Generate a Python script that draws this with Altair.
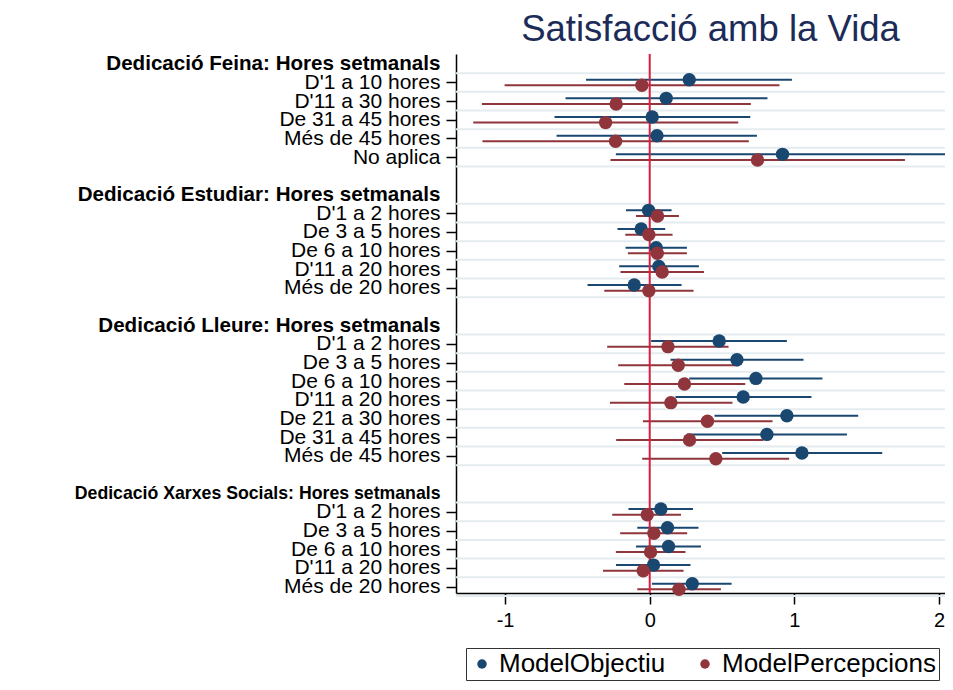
import json
import altair as alt
import pandas as pd

# ---------------- data ----------------
groups = [
    "Dedicació Feina: Hores setmanals",
    "Dedicació Estudiar: Hores setmanals",
    "Dedicació Lleure: Hores setmanals",
    "Dedicació Xarxes Socials: Hores setmanals",
]
items = [
    ["D'1 a 10 hores", "D'11 a 30 hores", "De 31 a 45 hores", "Més de 45 hores", "No aplica"],
    ["D'1 a 2 hores", "De 3 a 5 hores", "De 6 a 10 hores", "D'11 a 20 hores", "Més de 20 hores"],
    ["D'1 a 2 hores", "De 3 a 5 hores", "De 6 a 10 hores", "D'11 a 20 hores",
     "De 21 a 30 hores", "De 31 a 45 hores", "Més de 45 hores"],
    ["D'1 a 2 hores", "De 3 a 5 hores", "De 6 a 10 hores", "D'11 a 20 hores", "Més de 20 hores"],
]
series = ["ModelObjectiu", "ModelPercepcions"]
colors = ["#1a476f", "#90353b"]

obj_coef = [0.273, 0.114, 0.017, 0.050, 0.918,
            -0.008, -0.059, 0.045, 0.063, -0.107,
            0.480, 0.603, 0.734, 0.646, 0.948, 0.810, 1.052,
            0.077, 0.123, 0.130, 0.026, 0.294]
obj_lo = [-0.440, -0.582, -0.658, -0.644, -0.234,
          -0.164, -0.223, -0.167, -0.211, -0.430,
          0.010, 0.144, 0.273, 0.178, 0.448, 0.257, 0.501,
          -0.147, -0.086, -0.095, -0.233, 0.015]
obj_hi = [0.983, 0.814, 0.695, 0.741, 2.070,
          0.151, 0.107, 0.257, 0.340, 0.220,
          0.948, 1.063, 1.194, 1.118, 1.441, 1.363, 1.607,
          0.299, 0.337, 0.354, 0.282, 0.566]
per_coef = [-0.054, -0.232, -0.305, -0.236, 0.745,
            0.054, -0.006, 0.052, 0.086, -0.006,
            0.126, 0.197, 0.240, 0.146, 0.399, 0.275, 0.457,
            -0.017, 0.029, 0.006, -0.045, 0.202]
per_lo = [-1.003, -1.160, -1.220, -1.156, -0.271,
          -0.095, -0.169, -0.151, -0.202, -0.314,
          -0.294, -0.218, -0.176, -0.275, -0.047, -0.232, -0.052,
          -0.259, -0.204, -0.234, -0.323, -0.086]
per_hi = [0.897, 0.699, 0.612, 0.685, 1.764,
          0.202, 0.158, 0.257, 0.375, 0.303,
          0.545, 0.617, 0.660, 0.572, 0.849, 0.786, 0.964,
          0.216, 0.259, 0.247, 0.234, 0.492]

x_ticks = [-1, 0, 1, 2]

# ---------------- row layout ----------------
labels_by_row = []
header_rows = []
item_rows = []
r = 0
for g, its in zip(groups, items):
    header_rows.append(r)
    labels_by_row.append(g)
    r += 1
    for it in its:
        item_rows.append(r)
        labels_by_row.append(it)
        r += 1
    labels_by_row.append("")
    r += 1

recs = []
for i, row in enumerate(item_rows):
    recs.append(dict(series=series[0], k=0, row=row, coef=obj_coef[i], lo=obj_lo[i], hi=obj_hi[i]))
    recs.append(dict(series=series[1], k=1, row=row, coef=per_coef[i], lo=per_lo[i], hi=per_hi[i]))
df = pd.DataFrame(recs)

bounds = sorted(set([b for rr in item_rows for b in (rr - 0.5, rr + 0.5)]))
grid_df = pd.DataFrame({"y": bounds})
zero_df = pd.DataFrame({"x": [0]})

FONT = "Liberation Sans"
xscale = alt.Scale(domain=[-1.339, 2.041], nice=False, zero=False)
yscale = alt.Scale(domain=[-0.525, 28.345], reverse=True, nice=False, zero=False)

label_arr = json.dumps(labels_by_row, ensure_ascii=False)
hdr_arr = json.dumps(header_rows)
is_hdr = f"indexof({hdr_arr}, datum.value) >= 0"
long_hdr = f"datum.value == {header_rows[-1]}"

yaxis = alt.Axis(
    title=None,
    values=sorted(header_rows + item_rows),
    labelExpr=f"{label_arr}[datum.value]",
    labelFont=FONT, labelColor="#000", labelLimit=0,
    labelFontSize={"condition": [{"test": long_hdr, "value": 17.7},
                                 {"test": is_hdr, "value": 20.6}], "value": 21},
    labelFontWeight={"condition": {"test": is_hdr, "value": "bold"}, "value": "normal"},
    tickOpacity={"condition": {"test": is_hdr, "value": 0}, "value": 1},
    labelOverlap=False, labelFlush=False, labelBound=False,
    tickSize=10, tickWidth=1.5, tickColor="#000",
    domainColor="#000", domainWidth=1.5, labelPadding=6, grid=False,
)
xaxis = alt.Axis(
    title=None, values=x_ticks, labelExpr="'' + datum.value",
    labelFont=FONT, labelFontSize=20, labelColor="#000",
    tickSize=11, tickWidth=1.5, tickColor="#000",
    domainColor="#000", domainWidth=1.5, labelPadding=6, grid=False,
    labelFlush=False,
)

grid = alt.Chart(grid_df).mark_rule(color="#e4ecef", strokeWidth=2).encode(
    y=alt.Y("y:Q", scale=yscale, axis=yaxis)
)
zero = alt.Chart(zero_df).mark_rule(color="#d81e42", strokeWidth=2).encode(
    x=alt.X("x:Q", scale=xscale, axis=xaxis)
)

legend = alt.Legend(
    orient="none", legendX=10, legendY=594, direction="horizontal", title=None,
    labelFont=FONT, labelFontSize=26, labelColor="#000", labelLimit=0,
    symbolType="circle", symbolSize=90, symbolOpacity=1,
    strokeColor="#333", fillColor="#fff", padding=3, columnPadding=26, labelOffset=4,
)

base = alt.Chart(df).transform_calculate(
    y="datum.row + (datum.k == 0 ? -0.15 : 0.15)"
)
rule_layers = []
for k, (s, c) in enumerate(zip(series, colors)):
    rule_layers.append(
        base.transform_filter(f"datum.k == {k}").mark_rule(
            strokeWidth=2, clip=True, color=c
        ).encode(
            x=alt.X("lo:Q", scale=xscale, axis=xaxis),
            x2="hi:Q",
            y=alt.Y("y:Q", scale=yscale, axis=yaxis),
        )
    )
points = base.mark_circle(size=180, opacity=1).encode(
    x=alt.X("coef:Q", scale=xscale, axis=xaxis),
    y=alt.Y("y:Q", scale=yscale, axis=yaxis),
    color=alt.Color("series:N", scale=alt.Scale(domain=series, range=colors), legend=legend),
)

chart = alt.layer(grid, *rule_layers, zero, points).properties(
    width=489, height=539,
    padding={"left": 448, "top": 46, "right": 0, "bottom": 89},
    autosize="none",
    title=alt.TitleParams(
        "Satisfacció amb la Vida", font=FONT, fontSize=36.5, fontWeight="normal",
        color="#1c2b58", anchor="middle", frame="group", dx=10, offset=5,
    ),
    background="#ffffff",
).configure_view(stroke=None)

chart.save("out.html", embed_options={"renderer": "svg", "actions": False})
